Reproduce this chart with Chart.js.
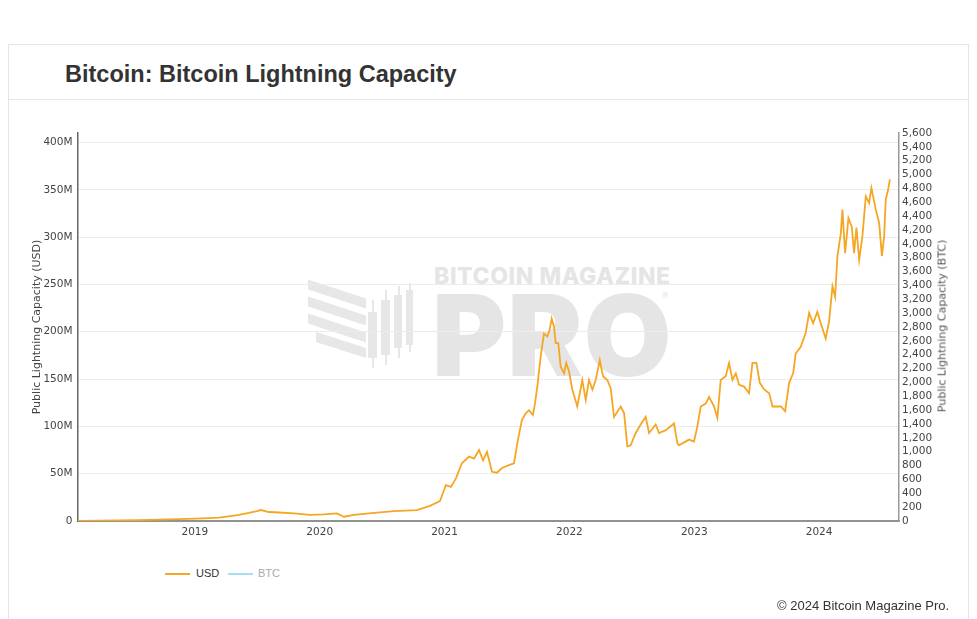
<!DOCTYPE html>
<html><head><meta charset="utf-8">
<script src="https://cdn.jsdelivr.net/npm/chart.js@4.4.1/dist/chart.umd.min.js"></script>
<style>
html,body{margin:0;padding:0;background:#fff;}
body{width:977px;height:619px;position:relative;overflow:hidden;font-family:"Liberation Sans",Arial,sans-serif;}
#card{position:absolute;left:8px;top:44px;width:961px;height:600px;border:1px solid #e4e4e4;box-sizing:border-box;}
#header{position:absolute;left:9px;top:45px;width:959px;height:54px;border-bottom:1px solid #e6e6e6;}
#title{position:absolute;left:65px;top:62px;font:bold 23.5px/24px "Liberation Sans",Arial,sans-serif;color:#333;white-space:nowrap;}
.wm{position:absolute;color:#e5e5e5;white-space:nowrap;font-family:Inter,"Liberation Sans",sans-serif;}
#wm1{left:434px;top:262px;font-weight:800;font-size:23px;line-height:28px;letter-spacing:0.6px;}
#wm2{left:432px;top:279px;font-weight:900;font-size:113px;line-height:113px;letter-spacing:1px;}
#wm3{left:662px;top:290px;font-size:9px;}
.stripe{position:absolute;width:58px;height:10px;background:#e7e7e7;transform:skewY(18deg);left:308px;}
.body{position:absolute;background:#e7e7e7;}
.wick{position:absolute;background:#e7e7e7;width:2px;}
#chartWrap{position:absolute;left:0;top:0;width:977px;height:619px;z-index:2;}
#rtitle{position:absolute;left:942px;top:326px;transform:translate(-50%,-50%) rotate(-90deg);font:11px "DejaVu Sans",Verdana,sans-serif;color:#555;white-space:nowrap;z-index:3;}
.lgline{position:absolute;height:2px;width:25px;top:573px;}
.lgtext{position:absolute;top:568px;font:11px/11px "Liberation Sans",Arial,sans-serif;white-space:nowrap;}
#footer{position:absolute;left:777px;top:599px;font:13px/13px "Liberation Sans",Arial,sans-serif;color:#333;white-space:nowrap;z-index:3;}
</style>
</head>
<body>
<div id="card"></div>
<div id="header"></div>
<div id="title">Bitcoin: Bitcoin Lightning Capacity</div>

<div class="stripe" style="top:289px"></div>
<div class="stripe" style="top:306px"></div>
<div class="stripe" style="top:323px"></div>
<div class="stripe" style="top:340px;width:50px;left:316px"></div>
<div class="wick" style="left:372px;top:300px;height:68px"></div>
<div class="body" style="left:368px;top:312px;width:9px;height:46px"></div>
<div class="wick" style="left:385px;top:290px;height:75px"></div>
<div class="body" style="left:381px;top:300px;width:9px;height:55px"></div>
<div class="wick" style="left:398px;top:286px;height:72px"></div>
<div class="body" style="left:394px;top:295px;width:8px;height:53px"></div>
<div class="wick" style="left:409px;top:283px;height:69px"></div>
<div class="body" style="left:406px;top:290px;width:7px;height:55px"></div>
<div class="wm" id="wm1">BITCOIN MAGAZINE</div>
<div class="wm" id="wm2">PRO</div>
<div class="wm" id="wm3">®</div>

<div id="chartWrap"><canvas id="c" width="977" height="619"></canvas></div>
<div id="rtitle">Public Lightning Capacity (BTC)</div>

<div class="lgline" style="left:165px;background:#f5a623"></div>
<div class="lgtext" style="left:196px;color:#333">USD</div>
<div class="lgline" style="left:228px;background:#a6def2"></div>
<div class="lgtext" style="left:258px;color:#aaa">BTC</div>

<div id="footer">© 2024 Bitcoin Magazine Pro.</div>

<script>
// ---- Data ----
const usdYears = [
 2018.054,2018.231,2018.391,2018.551,2018.712,2018.872,2019.000,2019.112,2019.192,2019.272,
 2019.353,2019.433,2019.497,2019.529,2019.593,2019.673,2019.793,2019.921,2020.034,2020.138,
 2020.194,2020.274,2020.394,2020.595,2020.779,2020.883,2020.963,2021.011,2021.051,2021.091,
 2021.139,2021.196,2021.236,2021.276,2021.308,2021.340,2021.380,2021.420,2021.460,2021.516,
 2021.556,2021.588,2021.620,2021.652,2021.676,2021.708,2021.724,2021.743,2021.770,2021.796,
 2021.823,2021.842,2021.858,2021.877,2021.890,2021.911,2021.930,2021.957,2021.975,2021.997,
 2022.023,2022.063,2022.103,2022.131,2022.157,2022.184,2022.211,2022.243,2022.269,2022.304,
 2022.331,2022.357,2022.411,2022.438,2022.464,2022.491,2022.531,2022.571,2022.611,2022.638,
 2022.691,2022.718,2022.772,2022.838,2022.865,2022.878,2022.958,2022.998,2023.025,2023.052,
 2023.092,2023.119,2023.159,2023.185,2023.212,2023.252,2023.279,2023.306,2023.333,2023.359,
 2023.399,2023.439,2023.466,2023.498,2023.525,2023.560,2023.600,2023.627,2023.694,2023.728,
 2023.760,2023.792,2023.813,2023.853,2023.893,2023.920,2023.952,2023.986,2024.013,2024.053,
 2024.080,2024.107,2024.128,2024.147,2024.174,2024.187,2024.208,2024.235,2024.262,2024.280,
 2024.299,2024.321,2024.347,2024.374,2024.401,2024.419,2024.454,2024.481,2024.503,2024.521,
 2024.534,2024.553,2024.567
];
const usdMillions = [
 0.1,0.3,0.6,1.0,1.5,2.0,2.5,3.0,3.5,5.0,
 6.5,8.5,10.5,11.6,9.5,9.0,8.0,6.5,7.0,8.0,
 4.5,6.5,8.0,10.5,11.5,16,21,38,36,45,
 61,68,66,75,64,73,52,51,56,59,
 61,86,107,114,117,112,124,142,174,198,
 195,202,214,205,188,188,163,156,167,158,
 139,121,149,128,149,139,149,170,153,149,
 140,110,121,114,79,80,93,102,110,93,
 102,93,96,103,82,80,86,84,100,121,
 124,131,121,109,149,153,167,149,156,144,
 142,135,167,167,146,139,135,121,121,116,
 146,156,177,184,199,220,209,221,209,193,
 211,248,237,280,304,329,283,320,311,283,
 310,276,301,343,336,352,329,315,280,301,
 340,350,361
];
const btcYears = [2018.054,2018.5,2019.0,2019.5,2020.0,2020.5,2021.0,2021.5,2022.0,2022.5,2023.0,2023.5,2024.0,2024.567];
const btcValues = [40,180,550,1000,900,950,1100,1650,3400,4000,5000,5400,4900,5100];

const xTickYears = [2019,2020,2021,2022,2023,2024];
const usdTickValues = [0,50,100,150,200,250,300,350,400];
const btcTickValues = [0,200,400,600,800,1000,1200,1400,1600,1800,2000,2200,2400,2600,2800,3000,3200,3400,3600,3800,4000,4200,4400,4600,4800,5000,5200,5400,5600];

// ---- Chart ----
const tickFont = {family:'"DejaVu Sans", Verdana, sans-serif', size:10.5};
const tickColor = '#444';

new Chart(document.getElementById('c'), {
  type:'line',
  data:{
    datasets:[
      {label:'USD', data:usdYears.map((x,i)=>({x:x,y:usdMillions[i]})), yAxisID:'y',
       borderColor:'#f5a623', backgroundColor:'#f5a623', borderWidth:1.8, pointRadius:0, tension:0, fill:false},
      {label:'BTC', data:btcYears.map((x,i)=>({x:x,y:btcValues[i]})), yAxisID:'y1', hidden:true,
       borderColor:'#a6def2', backgroundColor:'#a6def2', borderWidth:1.6, pointRadius:0, tension:0, fill:false}
    ]
  },
  options:{
    responsive:false, animation:false, devicePixelRatio:1,
    layout:{padding:{top:133,left:0,right:0,bottom:0}},
    plugins:{legend:{display:false}, tooltip:{enabled:false}},
    scales:{
      x:{
        type:'linear', min:2018.06, max:2024.64,
        afterBuildTicks:s=>{ s.ticks = xTickYears.map(v=>({value:v})); },
        afterFit:s=>{ s.height = 98; },
        grid:{display:false, drawTicks:false},
        border:{display:true, color:'#929292', width:2},
        ticks:{padding:5, font:tickFont, color:tickColor, maxRotation:0, autoSkip:false, callback:v=>String(v)}
      },
      y:{
        position:'left', min:0, max:410,
        afterBuildTicks:s=>{ s.ticks = usdTickValues.map(v=>({value:v})); },
        afterFit:s=>{ s.width = 77.5; },
        grid:{color:'#ececec', drawTicks:false},
        border:{display:true, color:'#666', width:1.5},
        ticks:{padding:5, font:tickFont, color:tickColor, autoSkip:false, callback:v=>v===0?'0':v+'M'},
        title:{display:true, text:'Public Lightning Capacity (USD)', color:'#444',
               font:{family:'"DejaVu Sans", Verdana, sans-serif', size:11}, padding:{top:31,bottom:0}}
      },
      y1:{
        position:'right', min:0, max:5600,
        afterBuildTicks:s=>{ s.ticks = btcTickValues.map(v=>({value:v})); },
        afterFit:s=>{ s.width = 78; },
        grid:{drawOnChartArea:false, drawTicks:false},
        border:{display:true, color:'#9a9a9a', width:1.5},
        ticks:{padding:3, font:tickFont, color:tickColor, autoSkip:false, callback:v=>v.toLocaleString('en-US')}
      }
    }
  }
});
</script>
</body></html>
